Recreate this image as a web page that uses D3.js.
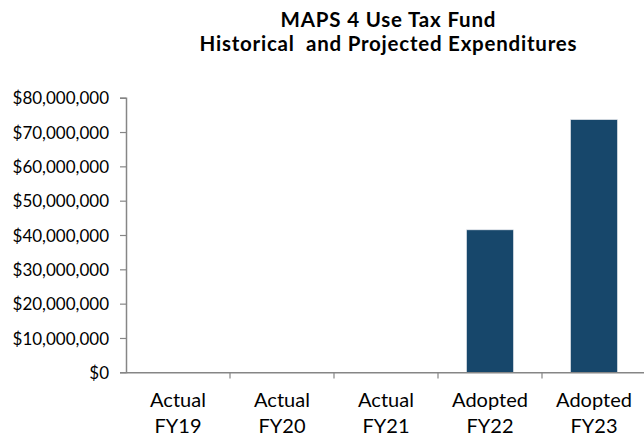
<!DOCTYPE html>
<html><head><meta charset="utf-8">
<script src="https://cdn.jsdelivr.net/npm/d3@7"></script>
<style>body{margin:0;background:#fff}svg{display:block}text{font-family:Lato,"Open Sans",sans-serif;fill:#000}</style>
</head><body><div id="c"></div>
<script>
const categories = [["Actual","FY19"],["Actual","FY20"],["Actual","FY21"],["Adopted","FY22"],["Adopted","FY23"]];
const values = [0, 0, 0, 41500000, 73600000];
const yTicks = [0,10000000,20000000,30000000,40000000,50000000,60000000,70000000,80000000];
const titleLines = ["MAPS 4 Use Tax Fund","Historical  and Projected Expenditures"];
const titleWidths = [215, 377];

const W=644,H=436;
const svg=d3.select("#c").append("svg").attr("width",W).attr("height",H);
const keys=categories.map(c=>c.join(" "));
const x=d3.scaleBand().domain(keys).range([126,646]).paddingInner(0.55).paddingOuter(0.275);
const xb=d3.scaleBand().domain(keys).range([126,646]);
const y=d3.scaleLinear().domain([0,80000000]).range([372.3,97.7]);

svg.selectAll("rect.bar").data(values).join("rect").attr("class","bar")
  .attr("x",(d,i)=>x(keys[i])).attr("width",x.bandwidth())
  .attr("y",d=>y(d)).attr("height",d=>y(0)-y(d))
  .attr("fill","#17476b").attr("stroke","#dfe3e8").attr("stroke-width",0.6);

const fmt=d=>"$"+d3.format(",")(d);
const ya=svg.append("g").attr("transform","translate(126,0)")
  .call(d3.axisLeft(y).tickValues(yTicks).tickFormat(fmt).tickSize(6).tickPadding(11));
ya.select(".domain").attr("stroke","#868686").attr("stroke-width",1.5);
ya.selectAll(".tick line").attr("stroke","#868686").attr("stroke-width",1.2);
ya.selectAll(".tick text").attr("font-size",17).attr("font-family","Lato").attr("fill","#000").attr("dy","0.36em");

const xa=svg.append("g").attr("transform","translate(0,372.3)")
  .call(d3.axisBottom(xb).tickSize(0).tickFormat(()=>""));
xa.select(".domain").attr("stroke","#868686").attr("stroke-width",1.5);
xa.selectAll(".tick").remove();
const bounds=keys.map(k=>xb(k)).slice(1);
svg.selectAll("line.xt").data(bounds).join("line").attr("class","xt")
  .attr("x1",d=>d).attr("x2",d=>d).attr("y1",372.3).attr("y2",378.5)
  .attr("stroke","#868686").attr("stroke-width",1.2);

const lab=svg.selectAll("text.xl").data(categories).join("text").attr("class","xl")
  .attr("text-anchor","middle").attr("font-size",20)
  .attr("transform",(d,i)=>`translate(${xb(keys[i])+xb.bandwidth()/2},0)`);
lab.append("tspan").attr("x",0).attr("y",407).text(d=>d[0]);
lab.append("tspan").attr("x",0).attr("y",433).text(d=>d[1]);

svg.selectAll("text.title").data(titleLines).join("text").attr("class","title")
  .attr("x",388).attr("y",(d,i)=>27+i*23.5).attr("text-anchor","middle")
  .attr("font-family","Lato").attr("font-weight","bold").attr("font-size",20.5)
  .attr("textLength",(d,i)=>titleWidths[i]).attr("lengthAdjust","spacing")
  .style("white-space","pre").text(d=>d);
</script></body></html>
